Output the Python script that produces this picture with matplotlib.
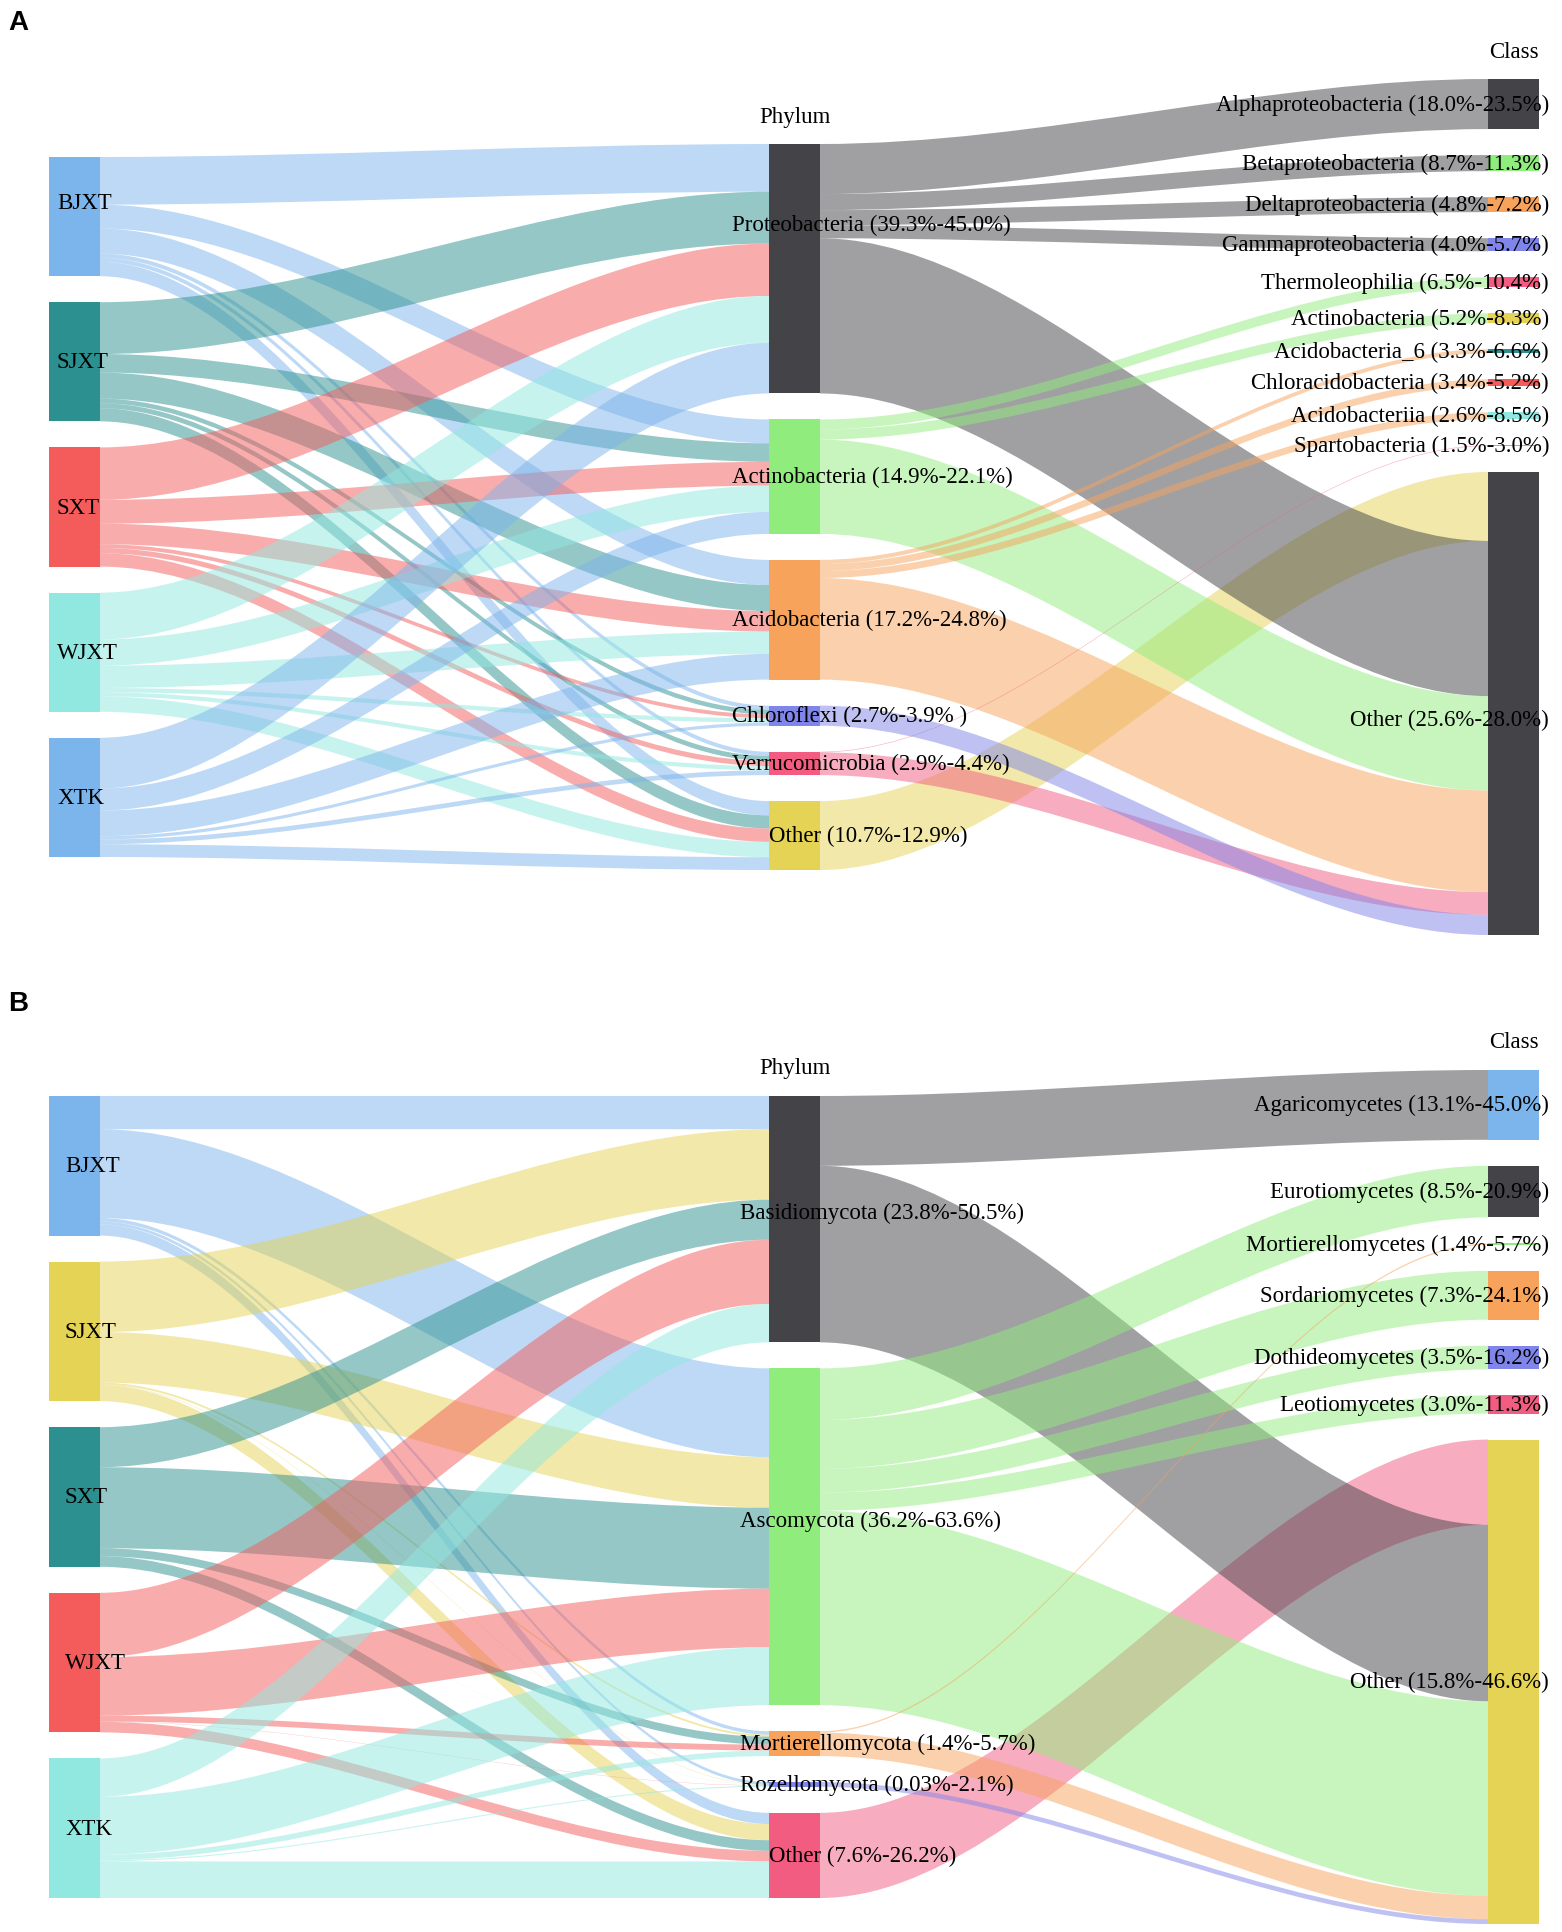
import matplotlib
matplotlib.use("Agg")
import matplotlib.pyplot as plt
from matplotlib.path import Path
from matplotlib.patches import PathPatch, Rectangle

# highcharts default colour cycle, nodes take colours in order of first appearance
PALETTE = ['#7cb5ec', '#434348', '#90ed7d', '#f7a35c', '#8085e9',
           '#f15c80', '#e4d354', '#2b908f', '#f45b5b', '#91e8e1']

samples = ['BJXT', 'SJXT', 'SXT', 'WJXT', 'XTK']

# ---- panel A: bacteria ----
phyla_a = ['Proteobacteria', 'Actinobacteria', 'Acidobacteria', 'Chloroflexi',
           'Verrucomicrobia', 'Other']
phyla_a_ranges = ['(39.3%-45.0%)', '(14.9%-22.1%)', '(17.2%-24.8%)', '(2.7%-3.9% )',
                  '(2.9%-4.4%)', '(10.7%-12.9%)']
# rows = samples, columns = phyla_a
sample_phylum_a = [
    [40.0, 20.0, 21.0, 3.5, 3.5, 12.0],
    [43.5, 15.5, 21.9, 3.9, 4.2, 11.0],
    [44.0, 20.0, 17.2, 3.2, 4.4, 11.2],
    [39.3, 22.0, 18.7, 3.6, 3.5, 12.9],
    [42.5, 18.5, 21.6, 2.7, 4.0, 10.7],
]
classes_a = ['Alphaproteobacteria', 'Betaproteobacteria', 'Deltaproteobacteria',
             'Gammaproteobacteria', 'Thermoleophilia', 'Actinobacteria',
             'Acidobacteria_6', 'Chloracidobacteria', 'Acidobacteriia',
             'Spartobacteria', 'Other']
classes_a_ranges = ['(18.0%-23.5%)', '(8.7%-11.3%)', '(4.8%-7.2%)', '(4.0%-5.7%)',
                    '(6.5%-10.4%)', '(5.2%-8.3%)', '(3.3%-6.6%)', '(3.4%-5.2%)',
                    '(2.6%-8.5%)', '(1.5%-3.0%)', '(25.6%-28.0%)']
# (phylum, class, value) in link order
phylum_class_a = [
    ('Other', 'Other', 57.8),
    ('Proteobacteria', 'Alphaproteobacteria', 42.0),
    ('Proteobacteria', 'Betaproteobacteria', 13.5),
    ('Proteobacteria', 'Deltaproteobacteria', 12.6),
    ('Proteobacteria', 'Gammaproteobacteria', 11.0),
    ('Proteobacteria', 'Other', 130.2),
    ('Actinobacteria', 'Thermoleophilia', 8.4),
    ('Actinobacteria', 'Actinobacteria', 8.4),
    ('Actinobacteria', 'Other', 79.2),
    ('Acidobacteria', 'Acidobacteria_6', 3.4),
    ('Acidobacteria', 'Chloracidobacteria', 5.9),
    ('Acidobacteria', 'Acidobacteriia', 5.9),
    ('Acidobacteria', 'Other', 85.2),
    ('Verrucomicrobia', 'Spartobacteria', 0.5),
    ('Verrucomicrobia', 'Other', 19.1),
    ('Chloroflexi', 'Other', 16.9),
]

# ---- panel B: fungi ----
phyla_b = ['Basidiomycota', 'Ascomycota', 'Mortierellomycota', 'Rozellomycota', 'Other']
phyla_b_ranges = ['(23.8%-50.5%)', '(36.2%-63.6%)', '(1.4%-5.7%)', '(0.03%-2.1%)',
                  '(7.6%-26.2%)']
sample_phylum_b = [
    [23.8, 63.6, 2.5, 2.1, 8.0],
    [50.5, 36.2, 1.4, 0.3, 11.6],
    [28.7, 58.0, 5.7, 0.03, 7.6],
    [46.0, 42.0, 4.2, 0.2, 7.6],
    [27.5, 41.5, 4.0, 0.8, 26.2],
]
classes_b = ['Agaricomycetes', 'Eurotiomycetes', 'Mortierellomycetes', 'Sordariomycetes',
             'Dothideomycetes', 'Leotiomycetes', 'Other']
classes_b_ranges = ['(13.1%-45.0%)', '(8.5%-20.9%)', '(1.4%-5.7%)', '(7.3%-24.1%)',
                    '(3.5%-16.2%)', '(3.0%-11.3%)', '(15.8%-46.6%)']
phylum_class_b = [
    ('Other', 'Other', 61.0),
    ('Basidiomycota', 'Agaricomycetes', 50.0),
    ('Basidiomycota', 'Other', 126.5),
    ('Ascomycota', 'Eurotiomycetes', 37.0),
    ('Ascomycota', 'Sordariomycetes', 35.0),
    ('Ascomycota', 'Dothideomycetes', 17.0),
    ('Ascomycota', 'Leotiomycetes', 13.0),
    ('Ascomycota', 'Other', 139.3),
    ('Mortierellomycota', 'Mortierellomycetes', 1.0),
    ('Mortierellomycota', 'Other', 16.8),
    ('Rozellomycota', 'Other', 3.43),
]

W, H = 1562, 1933
COL_X = [49, 769, 1488]
NODE_W = 51
PAD = 26
SERIF = 'Liberation Serif'
FS = 16.5


def build(phyla, spm, classes, pcl):
    cols = [[('s', s) for s in samples], [('p', p) for p in phyla], [('c', c) for c in classes]]
    links = []
    for i, s in enumerate(samples):
        for j, p in enumerate(phyla):
            links.append((('s', s), ('p', p), spm[i][j]))
    for p, c, v in pcl:
        links.append((('p', p), ('c', c), v))
    order = [cols[0][0]] + cols[1] + cols[0][1:] + cols[2]
    colors = {n: PALETTE[i % len(PALETTE)] for i, n in enumerate(order)}
    return cols, links, colors


def layout(cols, links, top, bottom):
    val_in, val_out = {}, {}
    for a, b, v in links:
        val_out[a] = val_out.get(a, 0) + v
        val_in[b] = val_in.get(b, 0) + v
    size = {n: max(val_in.get(n, 0), val_out.get(n, 0)) for col in cols for n in col}
    avail = bottom - top
    scale = min((avail - (len(col) - 1) * PAD) / sum(size[n] for n in col) for col in cols)
    rects = {}
    for k, col in enumerate(cols):
        colh = sum(size[n] for n in col) * scale + (len(col) - 1) * PAD
        y = top + (avail - colh) / 2
        for n in col:
            h = size[n] * scale
            rects[n] = (COL_X[k], COL_X[k] + NODE_W, y, y + h)
            y += h + PAD
    return rects, scale


def draw_link(ax, x0, ya, yb, x1, za, zb, color):
    c = (x1 - x0) * 0.33
    verts = [(x0, ya), (x0 + c, ya), (x1 - c, za), (x1, za),
             (x1, zb), (x1 - c, zb), (x0 + c, yb), (x0, yb), (x0, ya)]
    codes = [Path.MOVETO, Path.CURVE4, Path.CURVE4, Path.CURVE4,
             Path.LINETO, Path.CURVE4, Path.CURVE4, Path.CURVE4, Path.CLOSEPOLY]
    ax.add_patch(PathPatch(Path(verts, codes), facecolor=color, edgecolor='none',
                           alpha=0.5, zorder=1))


def panel(ax, letter, letter_y, phyla, pranges, spm, classes, cranges, pcl,
          top, bottom, label_dx, nudge):
    cols, links, colors = build(phyla, spm, classes, pcl)
    rects, scale = layout(cols, links, top, bottom)

    out_off = {n: 0.0 for n in rects}
    in_off = {n: 0.0 for n in rects}
    for a, b, v in links:
        h = v * scale
        ra, rb = rects[a], rects[b]
        ya = ra[2] + out_off[a]
        za = rb[2] + in_off[b]
        out_off[a] += h
        in_off[b] += h
        draw_link(ax, ra[1], ya, ya + h, rb[0], za, za + h, colors[a])

    for n, (x0, x1, y0, y1) in rects.items():
        ax.add_patch(Rectangle((x0, y0), x1 - x0, y1 - y0, facecolor=colors[n],
                               edgecolor='none', zorder=2))

    txt = dict(family=SERIF, fontsize=FS, color='black', va='center', zorder=3)
    for n in cols[0]:
        x0, x1, y0, y1 = rects[n]
        ax.text(x0 + 8 + label_dx, (y0 + y1) / 2 + nudge.get(n, 0), n[1], ha='left', **txt)
    for n, r in zip(cols[1], pranges):
        x0, x1, y0, y1 = rects[n]
        lx = x0 if n[1] == 'Other' else x0 - 37 + label_dx
        ax.text(lx, (y0 + y1) / 2 + nudge.get(n, 0), f'{n[1]} {r}', ha='left', **txt)
    for n, r in zip(cols[2], cranges):
        x0, x1, y0, y1 = rects[n]
        ax.text(W - 13, (y0 + y1) / 2 + nudge.get(n, 0), f'{n[1]} {r}', ha='right', **txt)

    for k, title in [(1, 'Phylum'), (2, 'Class')]:
        x0, x1, y0, _ = rects[cols[k][0]]
        ax.text((x0 + x1) / 2, y0 - 28, title, ha='center', **txt)

    ax.text(8, letter_y, letter, family='Liberation Sans', fontweight='bold',
            fontsize=20, va='center', ha='left')


fig = plt.figure(figsize=(W / 100, H / 100), dpi=100)
ax = fig.add_axes([0, 0, 1, 1])
ax.set_xlim(0, W)
ax.set_ylim(H, 0)
ax.axis('off')

panel(ax, 'A', 23, phyla_a, phyla_a_ranges, sample_phylum_a, classes_a, classes_a_ranges,
      phylum_class_a, 80, 936, 0,
      {('s', 'BJXT'): -14, ('p', 'Proteobacteria'): -44, ('c', 'Other'): 16})
panel(ax, 'B', 1004, phyla_b, phyla_b_ranges, sample_phylum_b, classes_b, classes_b_ranges,
      phylum_class_b, 1071, 1925, 8,
      {('p', 'Ascomycota'): -16, ('p', 'Basidiomycota'): -7})

fig.savefig('out.png', dpi=100, facecolor='white')
